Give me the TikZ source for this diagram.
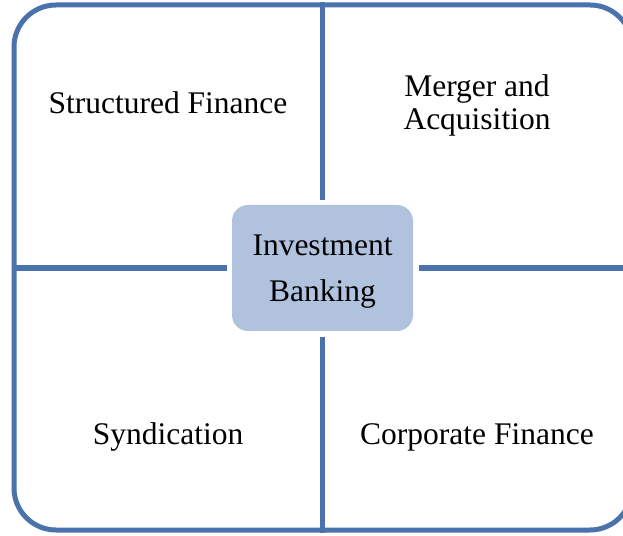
\documentclass[tikz,border=0pt]{standalone}
\usepackage{fontspec}
\setmainfont{Liberation Serif}
\usetikzlibrary{positioning}
\definecolor{framblue}{HTML}{4A72AC}
\definecolor{hubfill}{HTML}{B1C2DE}
\tikzset{
    frame/.style={
           rectangle, rounded corners=42pt,
           draw=framblue, line width=5pt,
           minimum width=618pt, minimum height=525pt,
           inner sep=0pt},
    hub/.style={
           rectangle, rounded corners=16pt,
           fill=hubfill,
           minimum width=181pt, minimum height=126pt,
           inner sep=0pt},
    hubtext/.style={
           align=center, inner sep=0pt,
           font=\fontsize{31.5}{46}\selectfont},
    area/.style={
           align=center,
           font=\fontsize{31.5}{33}\selectfont},
    spoke/.style={
           draw=framblue, line width=5.5pt}
}

\begin{document}
\begin{tikzpicture}[x=1pt, y=1pt]
        \clip (0,0) rectangle (623,535);
        \node[frame] (box) at (323,267.5) {};
        \node[hub] (ib) at (322.5,267) {};
        \node[hubtext] (ibt) at ([yshift=-3.5pt]ib.center) {Investment\\Banking};
        \node[area] (sf) at (168,432) {Structured Finance};
        \node[area] (ma) at (477,429.5) {Merger and\\Acquisition};
        \node[area] (sy) at (168,98) {Syndication};
        \node[area] (cf) at (477,98) {Corporate Finance};

        \draw[spoke] ([yshift=5pt]ib.north) -- (ib.north |- box.north);
        \draw[spoke] ([yshift=-6pt]ib.south) -- (ib.south |- box.south);
        \draw[spoke] ([xshift=-5pt]ib.west) -- (ib.west -| box.west);
        \draw[spoke] ([xshift=6pt]ib.east) -- (ib.east -| box.east);
    \end{tikzpicture}
\end{document}
